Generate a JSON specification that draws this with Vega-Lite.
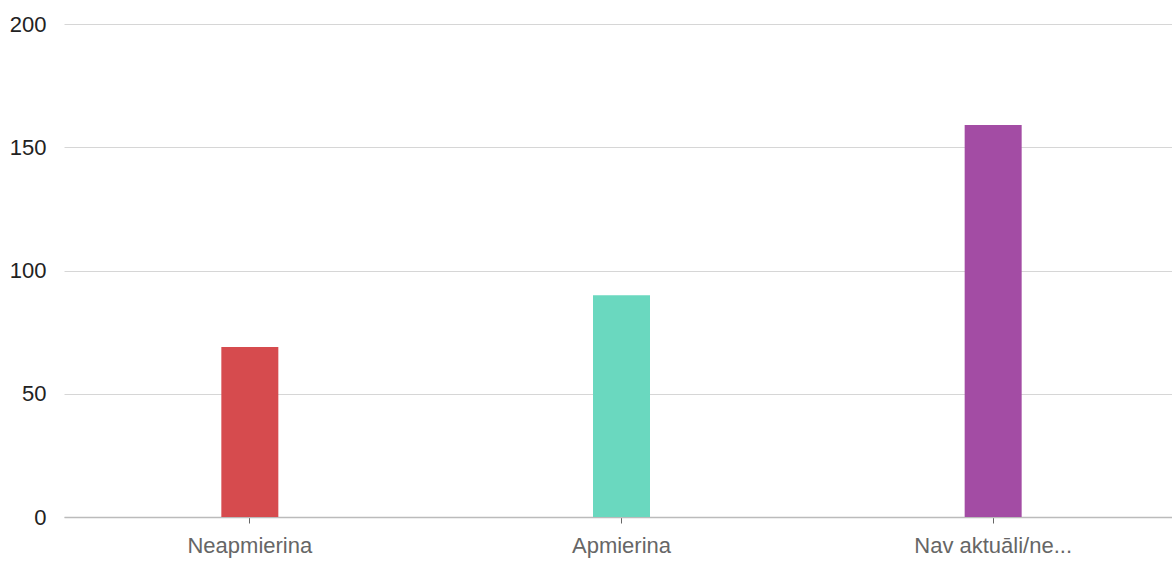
{
  "$schema": "https://vega.github.io/schema/vega-lite/v6.json",
  "autosize": "none",
  "padding": {"left": 64, "top": 24, "right": 0, "bottom": 45},
  "width": 1115,
  "height": 493,
  "background": "white",
  "config": {"view": {"stroke": null}, "font": "Liberation Sans"},
  "data": {"values": [
    {"kategorija": "Neapmierina", "skaits": 69, "krasa": "#d64b4e"},
    {"kategorija": "Apmierina", "skaits": 90, "krasa": "#6ad8bf"},
    {"kategorija": "Nav aktuāli/ne...", "skaits": 159, "krasa": "#a34ca4"}
  ]},
  "mark": {"type": "bar", "size": 57},
  "encoding": {
    "x": {
      "field": "kategorija", "type": "nominal", "sort": null, "title": null,
      "scale": {"paddingInner": 0, "paddingOuter": 0},
      "axis": {
        "labelAngle": 0, "labelFontSize": 22, "labelColor": "#666666",
        "labelFont": "Liberation Sans",
        "domainColor": "#bbbbbb", "domainWidth": 1.5,
        "tickColor": "#666666", "tickSize": 6, "labelPadding": 12, "grid": false
      }
    },
    "y": {
      "field": "skaits", "type": "quantitative", "title": null,
      "scale": {"domain": [0, 200], "nice": false},
      "axis": {
        "values": [0, 50, 100, 150, 200], "labelFontSize": 22, "labelColor": "#222222",
        "labelFont": "Liberation Sans",
        "domain": false, "ticks": false, "labelPadding": 18,
        "gridColor": "#d6d6d6", "gridWidth": 1
      }
    },
    "color": {"field": "krasa", "type": "nominal", "scale": null, "legend": null}
  }
}
